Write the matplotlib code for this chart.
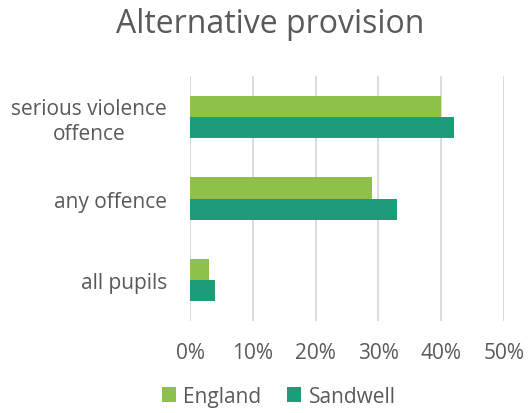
import matplotlib
matplotlib.use("Agg")
import matplotlib.pyplot as plt
import numpy as np
from matplotlib.ticker import PercentFormatter

plt.rcParams['font.family'] = ['Open Sans', 'DejaVu Sans']

categories = ["all pupils", "any offence", "serious violence\noffence"]
england = [3, 29, 40]
sandwell = [4, 33, 42]
ticks = [0, 10, 20, 30, 40, 50]

col_eng = "#8dc149"
col_san = "#1e9b78"
txt = "#595959"

fig = plt.figure(figsize=(5.3, 4.14), dpi=100)
ax = fig.add_axes([0.3585, 0.2222, 0.5925, 0.5918])

y = np.arange(len(categories))
h = 0.26
ax.barh(y + h/2, england, height=h, color=col_eng, label="England", zorder=3)
ax.barh(y - h/2, sandwell, height=h, color=col_san, label="Sandwell", zorder=3)

ax.set_xlim(0, 50)
ax.set_ylim(-0.5, 2.5)
ax.set_xticks(ticks)
ax.xaxis.set_major_formatter(PercentFormatter(decimals=0))
ax.set_yticks(y)
ax.set_yticklabels(categories)
for lab in ax.get_yticklabels():
    lab.set_horizontalalignment("right")
    lab.set_multialignment("center")
ax.tick_params(axis="y", length=0, pad=16.5, labelsize=15, labelcolor=txt)
ax.tick_params(axis="x", length=0, pad=15, labelsize=15, labelcolor=txt)
ax.grid(axis="x", color="#d9d9d9", linewidth=1.3, zorder=0)
for s in ax.spines.values():
    s.set_visible(False)

fig.suptitle("Alternative provision", x=0.51, y=0.98, fontsize=23, color=txt)

leg = fig.legend(loc="lower center", bbox_to_anchor=(0.5255, -0.03), ncol=2, frameon=False,
                 fontsize=15, labelcolor=txt, handlelength=0.7, handleheight=0.7,
                 handletextpad=0.35, columnspacing=1.2)

fig.savefig("out.png", dpi=100)
